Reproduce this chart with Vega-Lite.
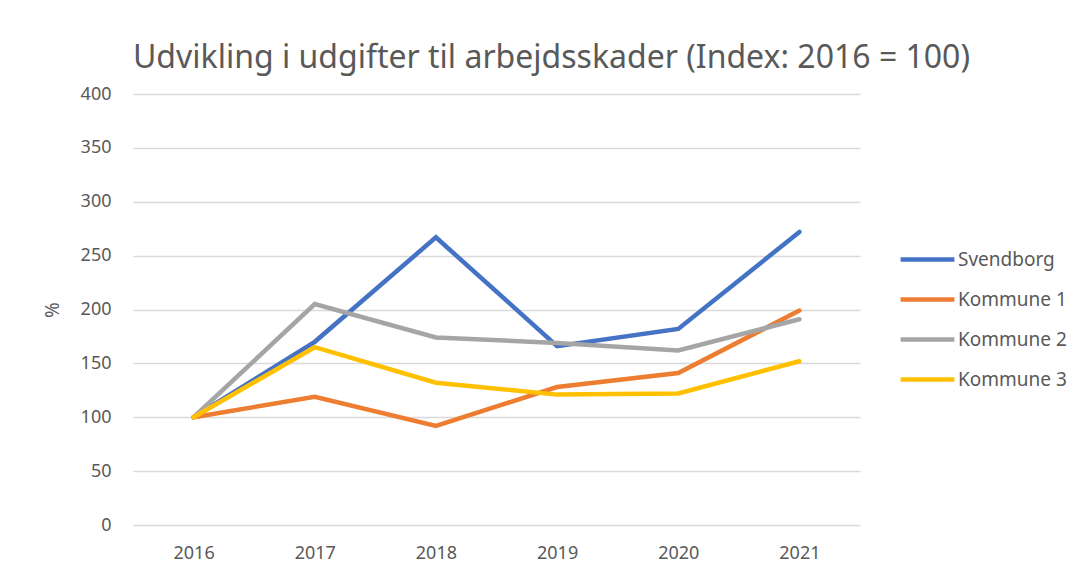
{
  "$schema": "https://vega.github.io/schema/vega-lite/v6.json",
  "width": 727,
  "height": 431,
  "autosize": {"type": "none"},
  "padding": {"left": 133, "top": 94, "right": 220, "bottom": 42},
  "background": "white",
  "config": {
    "view": {"stroke": null},
    "font": "Noto Sans"
  },
  "title": {
    "text": "Udvikling i udgifter til arbejdsskader (Index: 2016 = 100)",
    "fontSize": 32,
    "font": "Noto Sans",
    "fontWeight": "normal",
    "color": "#595959",
    "anchor": "middle",
    "dx": 55,
    "offset": 10
  },
  "data": {
    "values": [
      {"year": "2016", "series": "Svendborg", "value": 100},
      {"year": "2017", "series": "Svendborg", "value": 170},
      {"year": "2018", "series": "Svendborg", "value": 267},
      {"year": "2019", "series": "Svendborg", "value": 166},
      {"year": "2020", "series": "Svendborg", "value": 182},
      {"year": "2021", "series": "Svendborg", "value": 272},
      {"year": "2016", "series": "Kommune 1", "value": 100},
      {"year": "2017", "series": "Kommune 1", "value": 119},
      {"year": "2018", "series": "Kommune 1", "value": 92},
      {"year": "2019", "series": "Kommune 1", "value": 128},
      {"year": "2020", "series": "Kommune 1", "value": 141},
      {"year": "2021", "series": "Kommune 1", "value": 199},
      {"year": "2016", "series": "Kommune 2", "value": 100},
      {"year": "2017", "series": "Kommune 2", "value": 205},
      {"year": "2018", "series": "Kommune 2", "value": 174},
      {"year": "2019", "series": "Kommune 2", "value": 169},
      {"year": "2020", "series": "Kommune 2", "value": 162},
      {"year": "2021", "series": "Kommune 2", "value": 191},
      {"year": "2016", "series": "Kommune 3", "value": 100},
      {"year": "2017", "series": "Kommune 3", "value": 165},
      {"year": "2018", "series": "Kommune 3", "value": 132},
      {"year": "2019", "series": "Kommune 3", "value": 121},
      {"year": "2020", "series": "Kommune 3", "value": 122},
      {"year": "2021", "series": "Kommune 3", "value": 152}
    ]
  },
  "mark": {"type": "line", "strokeWidth": 4.5, "strokeCap": "round", "strokeJoin": "miter"},
  "encoding": {
    "x": {
      "field": "year",
      "type": "ordinal",
      "scale": {"type": "point", "padding": 0.5},
      "axis": {
        "title": null,
        "labelAngle": 0,
        "labelFontSize": 18,
        "labelColor": "#595959",
        "labelPadding": 19,
        "domain": false,
        "ticks": false,
        "grid": false
      }
    },
    "y": {
      "field": "value",
      "type": "quantitative",
      "scale": {"domain": [0, 400], "nice": false},
      "axis": {
        "title": "%",
        "titleFontSize": 19,
        "titleFontWeight": "normal",
        "titleColor": "#595959",
        "titlePadding": 18,
        "values": [0, 50, 100, 150, 200, 250, 300, 350, 400],
        "labelFontSize": 18,
        "labelColor": "#595959",
        "labelPadding": 22,
        "domain": false,
        "ticks": false,
        "grid": true,
        "gridColor": "#d9d9d9",
        "gridWidth": 1.5
      }
    },
    "color": {
      "field": "series",
      "type": "nominal",
      "sort": ["Svendborg", "Kommune 1", "Kommune 2", "Kommune 3"],
      "scale": {
        "domain": ["Svendborg", "Kommune 1", "Kommune 2", "Kommune 3"],
        "range": ["#4472C4", "#ED7D31", "#A5A5A5", "#FFC000"]
      },
      "legend": {
        "title": null,
        "orient": "none",
        "legendX": 765,
        "legendY": 136,
        "symbolType": "stroke",
        "symbolSize": 2900,
        "symbolStrokeWidth": 4.5,
        "labelFontSize": 19,
        "labelColor": "#595959",
        "labelOffset": 1,
        "rowPadding": -7
      }
    }
  }
}
